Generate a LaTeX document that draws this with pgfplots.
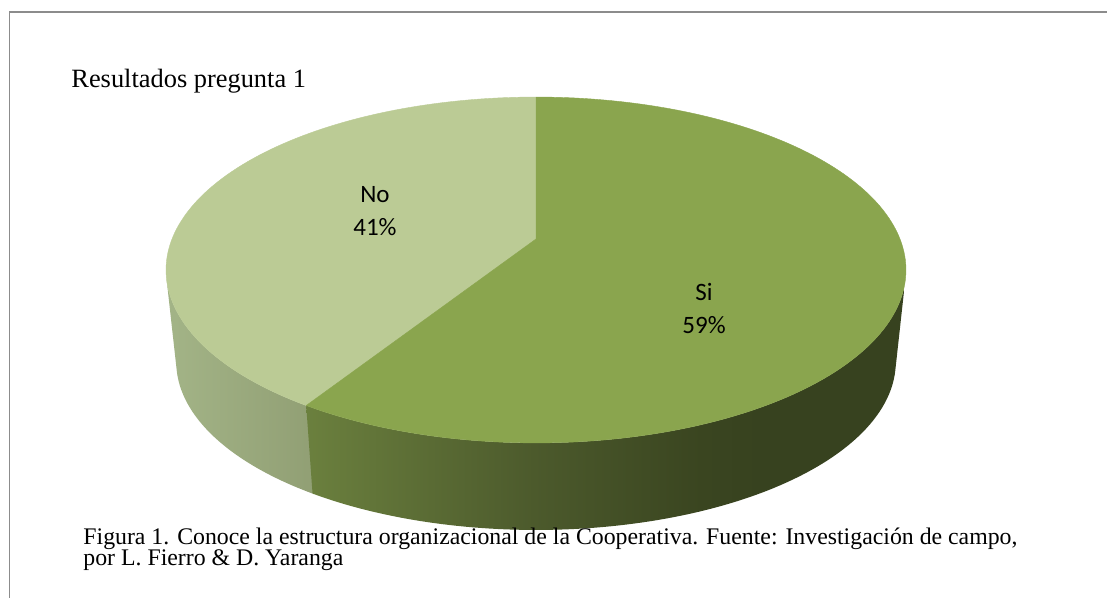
\documentclass[border=0pt]{standalone}
\usepackage{pgfplots}
\pgfplotsset{compat=1.18}
\usepackage{fontspec}
\setmainfont{Liberation Serif}
\newfontfamily\calibri{Carlito}
\definecolor{noTop}{HTML}{BBCB95}
\definecolor{siTop}{HTML}{8AA54E}
\definecolor{frameGray}{HTML}{8C8C8C}
\definecolor{siWa}{HTML}{6B803E}
\definecolor{siWb}{HTML}{4C5A2C}
\definecolor{siWc}{HTML}{3A4520}
\definecolor{siWd}{HTML}{37421F}
\definecolor{noWa}{HTML}{A3B487}
\definecolor{noWb}{HTML}{919F74}
\pgfdeclarehorizontalshading{siwall}{100bp}{color(0bp)=(siWa); color(25bp)=(siWa); color(44bp)=(siWb); color(58bp)=(siWc); color(63bp)=(siWd); color(100bp)=(siWd)}
\pgfdeclarehorizontalshading{nowall}{100bp}{color(0bp)=(noWa); color(25bp)=(noWa); color(75bp)=(noWb); color(100bp)=(noWb)}
% data (percent)
\newcommand\valSi{59}
\newcommand\valNo{41}
\begin{document}
\begin{tikzpicture}
\pgfmathsetmacro\tA{90}
\pgfmathsetmacro\tB{90+3.6*\valNo}
\pgfmathsetmacro\tC{\tB+3.6*\valSi}
\pgfmathsetmacro\tBx{\tB+1.0}
\def\tL{193.5}
\def\tR{346.5}
\useasboundingbox (0,0) rectangle (553.5pt,299pt);
\begin{axis}[at={(0,0)}, anchor=south west, scale only axis,
  width=553.5pt, height=299pt, xmin=0, xmax=1107, ymin=0, ymax=598,
  hide axis, clip=false,
  declare function={
    ww(\t)=1+0.1792*sin(\t);
    topx(\t)=536+364*cos(\t)/ww(\t);
    topy(\t)=359+167.4*sin(\t)/ww(\t);
    botx(\t)=536+0.97242*(topx(\t)-536);
    boty(\t)=-3000+0.97242*(topy(\t)+3000);
  }]
% frame
\addplot[frameGray, line width=0.9pt, no markers] coordinates {(9.5,0) (9.5,586) (1107,586)};
% walls (No wall runs slightly past the boundary; the Si wall covers the overlap)
\addplot[draw=none, shading=nowall, no markers, domain=0:2, samples=121, variable=\s]
  ({(\s<1) ? topx(\tL+(\tBx-\tL)*\s) : botx(\tBx-(\tBx-\tL)*(\s-1))},
   {(\s<1) ? topy(\tL+(\tBx-\tL)*\s) : boty(\tBx-(\tBx-\tL)*(\s-1))}) -- cycle;
\addplot[draw=none, shading=siwall, no markers, domain=0:2, samples=201, variable=\s]
  ({(\s<1) ? topx(\tB+(\tR-\tB)*\s) : botx(\tR-(\tR-\tB)*(\s-1))},
   {(\s<1) ? topy(\tB+(\tR-\tB)*\s) : boty(\tR-(\tR-\tB)*(\s-1))}) -- cycle;
% top faces
\addplot[fill=noTop, draw=noTop, line width=0.2pt, no markers, domain=\tA:\tB, samples=100, variable=\t]
  ({topx(\t)},{topy(\t)}) -- (axis cs:536,359) -- cycle;
\addplot[fill=siTop, draw=siTop, line width=0.2pt, no markers, domain=\tB:\tC, samples=150, variable=\t]
  ({topx(\t)},{topy(\t)}) -- (axis cs:536,359) -- cycle;
% labels
\node[anchor=base, font=\calibri\fontsize{12.5}{15}\selectfont] at (axis cs:375,395) {No};
\node[anchor=base, font=\calibri\fontsize{12.5}{15}\selectfont] at (axis cs:375,362) {41\%};
\node[anchor=base, font=\calibri\fontsize{12.5}{15}\selectfont] at (axis cs:704,297) {Si};
\node[anchor=base, font=\calibri\fontsize{12.5}{15}\selectfont] at (axis cs:704,264) {59\%};
% title and caption
\node[anchor=base west, inner sep=0pt, font=\fontsize{13.2}{15}\selectfont] at (axis cs:71,510) {Resultados pregunta 1};
\node[anchor=base west, inner sep=0pt, font=\fontsize{11.9}{13}\selectfont] at (axis cs:83,53) {Figura 1. Conoce la estructura organizacional de la Cooperativa. Fuente: Investigación de campo,};
\node[anchor=base west, inner sep=0pt, font=\fontsize{11.9}{13}\selectfont] at (axis cs:83,32) {por L. Fierro \& D. Yaranga};
\end{axis}
\end{tikzpicture}
\end{document}
